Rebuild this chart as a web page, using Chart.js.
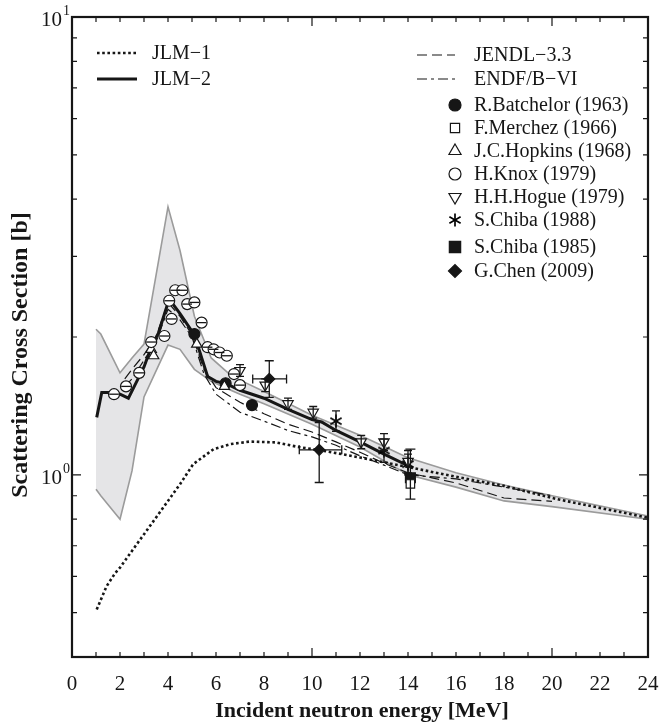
<!DOCTYPE html>
<html><head><meta charset="utf-8">
<script src="https://cdn.jsdelivr.net/npm/chart.js@4.4.1/dist/chart.umd.min.js"></script>
<style>html,body{margin:0;padding:0;background:#fff;}</style>
</head><body>
<canvas id="c" width="659" height="723"></canvas>
<script>
// ---------- data ----------
const xTickValues = [0,2,4,6,8,10,12,14,16,18,20,22,24];
const xTickLabels = ['0','2','4','6','8','10','12','14','16','18','20','22','24'];
const yDecadeValues = [1, 10];
const yDecadeExps = ['0', '1'];
const xTitle = 'Incident neutron energy [MeV]';
const yTitle = 'Scattering Cross Section [b]';

const bandE     = [1,    1.2,  2,    2.5,  3,    4,    4.5,  5.1,  5.8,  6.5,  7,    8,    10,   12,   14,   16,   18,    20,    24];
const bandUpper = [2.08, 2.03, 1.67, 1.80, 1.93, 3.85, 3.09, 2.22, 1.80, 1.67, 1.61, 1.52, 1.35, 1.22, 1.09, 1.01, 0.95,  0.90,  0.813];
const bandLower = [0.93, 0.90, 0.80, 1.02, 1.48, 1.92, 1.88, 1.70, 1.60, 1.54, 1.50, 1.43, 1.29, 1.15, 1.00, 0.94, 0.877, 0.852, 0.80];

const jlm1E = [1.03, 1.44, 1.8, 2.0, 2.55, 3.1, 3.8, 4.5, 5.05, 5.9, 6.6, 7.4, 8.5, 9.4, 10.5, 12, 14, 16, 18, 20.2, 24];
const jlm1S = [0.508,0.571,0.61,0.627,0.688,0.754,0.848,0.954,1.055,1.138,1.167,1.182,1.177,1.151,1.128,1.091,1.04,0.99,0.946,0.885,0.806];

const jlm2E = [1.03, 1.24, 1.72, 2.0, 2.35, 2.75, 3.0, 3.3, 3.6, 4.05, 4.5, 5.1, 5.65, 6.0, 6.45, 7.0, 8.0, 9.0, 10.0, 10.4, 11.0, 12.0, 13.0, 14.2];
const jlm2S = [1.335,1.513,1.513,1.50,1.47,1.62,1.72,1.90,2.04,2.42,2.25,2.02,1.64,1.60,1.58,1.53,1.47,1.39,1.32,1.305,1.25,1.18,1.11,1.035];

const jendlE = [2.2, 2.5, 3.0, 3.5, 4.0, 4.5, 5.0, 5.5, 6.0, 7.0, 8.0, 9.0, 10, 11, 12, 13, 14, 15, 16, 18, 20];
const jendlS = [1.62,1.70,1.83,2.00,2.38,2.22,2.02,1.70,1.55,1.44,1.36,1.29,1.24,1.18,1.12,1.06,1.01,0.985,0.96,0.89,0.875];
const endfE  = [2.2, 2.5, 3.0, 3.5, 4.0, 4.5, 5.0, 5.5, 6.0, 7.0, 8.0, 9.0, 10, 11, 12, 13, 14, 16, 18, 20];
const endfS  = [1.56,1.62,1.78,1.95,2.30,2.18,2.00,1.66,1.50,1.37,1.31,1.25,1.21,1.16,1.10,1.05,1.00,0.98,0.94,0.90];

const batchelorE = [5.1, 6.4, 7.5];
const batchelorS = [2.03, 1.585, 1.42];
const merchezE = [14.1];
const merchezS = [0.955];
const hopkinsE = [3.3, 3.4, 5.2, 6.35];
const hopkinsS = [1.88, 1.82, 1.93, 1.56];
const knoxE = [1.75, 2.25, 2.8, 3.3, 3.85, 4.05, 4.15, 4.3, 4.6, 4.8, 5.1, 5.4, 5.65, 5.9, 6.15, 6.45, 6.75, 7.0];
const knoxS = [1.50, 1.56, 1.67, 1.95, 2.01, 2.40, 2.19, 2.53, 2.53, 2.36, 2.38, 2.15, 1.90, 1.88, 1.85, 1.82, 1.66, 1.57];
const knoxXErr = 0.2;
const hogueE = [7.0, 8.05, 9.0, 10.05, 12.05, 13.0, 14.0];
const hogueS = [1.69, 1.57, 1.43, 1.37, 1.18, 1.18, 1.07];
const hogueYErr = [0.05, 0.05, 0.04, 0.04, 0.04, 0.05, 0.06];
const chiba88E = [11.0, 13.0, 14.0];
const chiba88S = [1.31, 1.13, 1.055];
const chiba88Lo = [1.245, 1.065, 1.0];
const chiba88Hi = [1.38, 1.197, 1.11];
const chiba85E = [14.1];
const chiba85S = [0.985];
const chiba85Lo = [0.885];
const chiba85Hi = [1.138];
const chenE = [8.22, 10.3];
const chenS = [1.62, 1.134];
const chenXLo = [7.53, 9.47];
const chenXHi = [8.94, 11.24];
const chenYLo = [1.476, 0.962];
const chenYHi = [1.775, 1.30];

// ---------- helpers ----------
const pts = (xs, ys) => xs.map((x, i) => ({x: x, y: ys[i]}));
const FONT = '"Liberation Serif", "Times New Roman", serif';
const INK = '#161616';

function makeAsterisk(size, lw) {
  const c = document.createElement('canvas');
  c.width = size; c.height = size;
  const g = c.getContext('2d');
  g.strokeStyle = '#000'; g.lineWidth = lw;
  const r = size / 2 - 0.5, cx = size / 2, cy = size / 2;
  for (let k = 0; k < 3; k++) {
    const a = Math.PI / 2 + k * Math.PI / 3;
    g.beginPath();
    g.moveTo(cx + r * Math.cos(a), cy + r * Math.sin(a));
    g.lineTo(cx - r * Math.cos(a), cy - r * Math.sin(a));
    g.stroke();
  }
  return c;
}
const asterisk = makeAsterisk(14, 1.7);

const lineDs = (label, xs, ys, extra) => Object.assign({
  label, data: pts(xs, ys), showLine: true, pointRadius: 0, borderColor: INK,
  backgroundColor: 'transparent', fill: false, tension: 0, order: 5
}, extra);
const markDs = (label, xs, ys, extra) => Object.assign({
  label, data: pts(xs, ys), showLine: false, borderColor: INK, pointBorderColor: INK,
  pointBorderWidth: 1.2, pointBackgroundColor: '#fff', pointRadius: 5.5, order: 1
}, extra);

const datasets = [
  lineDs('band upper', bandE, bandUpper, {borderColor: '#9b9b9b', borderWidth: 1.6, backgroundColor: '#e5e5e7', fill: '+1', order: 20}),
  lineDs('band lower', bandE, bandLower, {borderColor: '#9b9b9b', borderWidth: 1.6, order: 19}),
  lineDs('JLM-1', jlm1E, jlm1S, {borderWidth: 2.6, borderDash: [2.6, 2.6]}),
  lineDs('JENDL-3.3', jendlE, jendlS, {borderWidth: 1.2, borderDash: [10, 5]}),
  lineDs('ENDF/B-VI', endfE, endfS, {borderWidth: 1.2, borderDash: [10, 4, 3, 4]}),
  lineDs('JLM-2', jlm2E, jlm2S, {borderWidth: 3, order: 4}),
  markDs('H.Knox (1979)', knoxE, knoxS, {pointStyle: 'circle',
    errorBars: knoxE.map((e, i) => ({x: e, y: knoxS[i], xl: e - knoxXErr, xh: e + knoxXErr, cap: 0}))}),
  markDs('J.C.Hopkins (1968)', hopkinsE, hopkinsS, {pointStyle: 'triangle', pointRadius: 6}),
  markDs('H.H.Hogue (1979)', hogueE, hogueS, {pointStyle: 'triangle', pointRotation: 180, pointRadius: 6,
    errorBars: hogueE.map((e, i) => ({x: e, y: hogueS[i], yl: hogueS[i] - hogueYErr[i], yh: hogueS[i] + hogueYErr[i], cap: 8}))}),
  markDs('F.Merchez (1966)', merchezE, merchezS, {pointStyle: 'rect', pointRadius: 6}),
  markDs('R.Batchelor (1963)', batchelorE, batchelorS, {pointStyle: 'circle', pointBackgroundColor: INK}),
  markDs('S.Chiba (1988)', chiba88E, chiba88S, {pointStyle: asterisk,
    errorBars: chiba88E.map((e, i) => ({x: e, y: chiba88S[i], yl: chiba88Lo[i], yh: chiba88Hi[i], cap: 8}))}),
  markDs('S.Chiba (1985)', chiba85E, chiba85S, {pointStyle: 'rect', pointRadius: 7, pointBackgroundColor: INK,
    errorBars: chiba85E.map((e, i) => ({x: e, y: chiba85S[i], yl: chiba85Lo[i], yh: chiba85Hi[i], cap: 10}))}),
  markDs('G.Chen (2009)', chenE, chenS, {pointStyle: 'rectRot', pointRadius: 5.5, pointBackgroundColor: INK,
    errorBars: chenE.map((e, i) => ({x: e, y: chenS[i], xl: chenXLo[i], xh: chenXHi[i], yl: chenYLo[i], yh: chenYHi[i], cap: 9}))})
];

// ---------- plugins ----------
const errorBarPlugin = {
  id: 'errorBars',
  afterDatasetsDraw(chart) {
    const {ctx, scales: {x, y}} = chart;
    ctx.save();
    ctx.strokeStyle = INK; ctx.lineWidth = 1.3;
    chart.data.datasets.forEach(ds => {
      if (!ds.errorBars) return;
      ds.errorBars.forEach(b => {
        const px = x.getPixelForValue(b.x), py = y.getPixelForValue(b.y);
        ctx.beginPath();
        if (b.xl !== undefined) {
          const a = x.getPixelForValue(b.xl), c = x.getPixelForValue(b.xh);
          ctx.moveTo(a, py); ctx.lineTo(c, py);
          if (b.cap) { ctx.moveTo(a, py - b.cap/2); ctx.lineTo(a, py + b.cap/2); ctx.moveTo(c, py - b.cap/2); ctx.lineTo(c, py + b.cap/2); }
        }
        if (b.yl !== undefined) {
          const a = y.getPixelForValue(b.yl), c = y.getPixelForValue(b.yh);
          ctx.moveTo(px, a); ctx.lineTo(px, c);
          if (b.cap) { ctx.moveTo(px - b.cap/2, a); ctx.lineTo(px + b.cap/2, a); ctx.moveTo(px - b.cap/2, c); ctx.lineTo(px + b.cap/2, c); }
        }
        ctx.stroke();
      });
    });
    ctx.restore();
  }
};

const framePlugin = {
  id: 'frame',
  afterDraw(chart) {
    const {ctx, chartArea: {left, right, top, bottom}, scales: {x, y}} = chart;
    ctx.save();
    ctx.strokeStyle = INK; ctx.lineWidth = 1.2;
    ctx.beginPath();
    for (let v = 0; v <= 24; v++) {
      const px = x.getPixelForValue(v);
      const L = (v % 10 === 0) ? 9 : 5;
      ctx.moveTo(px, bottom); ctx.lineTo(px, bottom - L);
      ctx.moveTo(px, top); ctx.lineTo(px, top + L);
    }
    const yt = [0.4,0.5,0.6,0.7,0.8,0.9,1,2,3,4,5,6,7,8,9,10];
    yt.forEach(v => {
      const py = y.getPixelForValue(v);
      const L = (v === 1 || v === 10) ? 9 : 5;
      ctx.moveTo(left, py); ctx.lineTo(left + L, py);
      ctx.moveTo(right, py); ctx.lineTo(right - L, py);
    });
    ctx.stroke();
    ctx.lineWidth = 2.2;
    ctx.strokeRect(left, top, right - left, bottom - top);

    // tick labels
    ctx.fillStyle = INK;
    ctx.font = '21px ' + FONT;
    ctx.textAlign = 'center'; ctx.textBaseline = 'alphabetic';
    xTickValues.forEach((v, i) => ctx.fillText(xTickLabels[i], x.getPixelForValue(v), 690));
    yDecadeValues.forEach((v, i) => {
      const py = y.getPixelForValue(v);
      ctx.font = '21px ' + FONT; ctx.textAlign = 'right';
      ctx.fillText('10', 62, py + 9);
      ctx.font = '14px ' + FONT; ctx.textAlign = 'left';
      ctx.fillText(yDecadeExps[i], 63, py - 2);
    });
    // axis titles
    ctx.font = 'bold 22px ' + FONT; ctx.textAlign = 'center';
    ctx.fillText(xTitle, 362, 717);
    ctx.save();
    ctx.translate(27, 355); ctx.rotate(-Math.PI / 2);
    ctx.font = 'bold 24px ' + FONT;
    ctx.fillText(yTitle, 0, 0);
    ctx.restore();

    // legend
    const H = Chart.helpers;
    ctx.font = '20px ' + FONT; ctx.textAlign = 'left'; ctx.textBaseline = 'middle';
    const drawSample = (x0, x1, yy, lw, dash) => {
      ctx.save(); ctx.lineWidth = lw; ctx.setLineDash(dash); ctx.strokeStyle = INK;
      ctx.beginPath(); ctx.moveTo(x0, yy); ctx.lineTo(x1, yy); ctx.stroke(); ctx.restore();
    };
    drawSample(97, 137, 53, 2.6, [2.6, 2.6]); ctx.fillText('JLM\u22121', 152, 54);
    drawSample(97, 137, 79, 3, []); ctx.fillText('JLM\u22122', 152, 80);
    drawSample(417, 455, 55, 1.2, [10, 5]); ctx.fillText('JENDL\u22123.3', 474, 56);
    drawSample(417, 455, 79, 1.2, [10, 4, 3, 4]); ctx.fillText('ENDF/B\u2212VI', 474, 80);
    const items = [
      ['R.Batchelor (1963)', 105, {pointStyle: 'circle', radius: 6, borderWidth: 1.2}, true],
      ['F.Merchez (1966)', 128, {pointStyle: 'rect', radius: 6.5, borderWidth: 1.2}, false],
      ['J.C.Hopkins (1968)', 151, {pointStyle: 'triangle', radius: 7, borderWidth: 1.2}, false],
      ['H.Knox (1979)', 174, {pointStyle: 'circle', radius: 6, borderWidth: 1.2}, false],
      ['H.H.Hogue (1979)', 197, {pointStyle: 'triangle', rotation: 180, radius: 7, borderWidth: 1.2}, false],
      ['S.Chiba (1988)', 220, {pointStyle: asterisk, radius: 6, borderWidth: 0}, false],
      ['S.Chiba (1985)', 247, {pointStyle: 'rect', radius: 8, borderWidth: 1.2}, true],
      ['G.Chen (2009)', 271, {pointStyle: 'rectRot', radius: 6.5, borderWidth: 1.2}, true]
    ];
    items.forEach(([t, yy, opt, filled]) => {
      ctx.save();
      ctx.fillStyle = filled ? INK : '#fff'; ctx.strokeStyle = INK; ctx.lineWidth = 1.2;
      H.drawPoint(ctx, Object.assign({rotation: 0}, opt), 455, yy);
      ctx.restore();
      ctx.fillStyle = INK;
      ctx.fillText(t, 474, yy + 1);
    });
    ctx.restore();
  }
};

new Chart(document.getElementById('c'), {
  type: 'line',
  data: {datasets},
  options: {
    responsive: false,
    animation: false,
    devicePixelRatio: 1,
    layout: {padding: {left: 72, right: 11, top: 17, bottom: 66}},
    plugins: {legend: {display: false}, tooltip: {enabled: false}},
    elements: {line: {borderJoinStyle: 'miter'}},
    scales: {
      x: {type: 'linear', min: 0, max: 24, display: false},
      y: {type: 'logarithmic', min: 0.4, max: 10, display: false}
    }
  },
  plugins: [errorBarPlugin, framePlugin]
});
</script>
</body></html>
